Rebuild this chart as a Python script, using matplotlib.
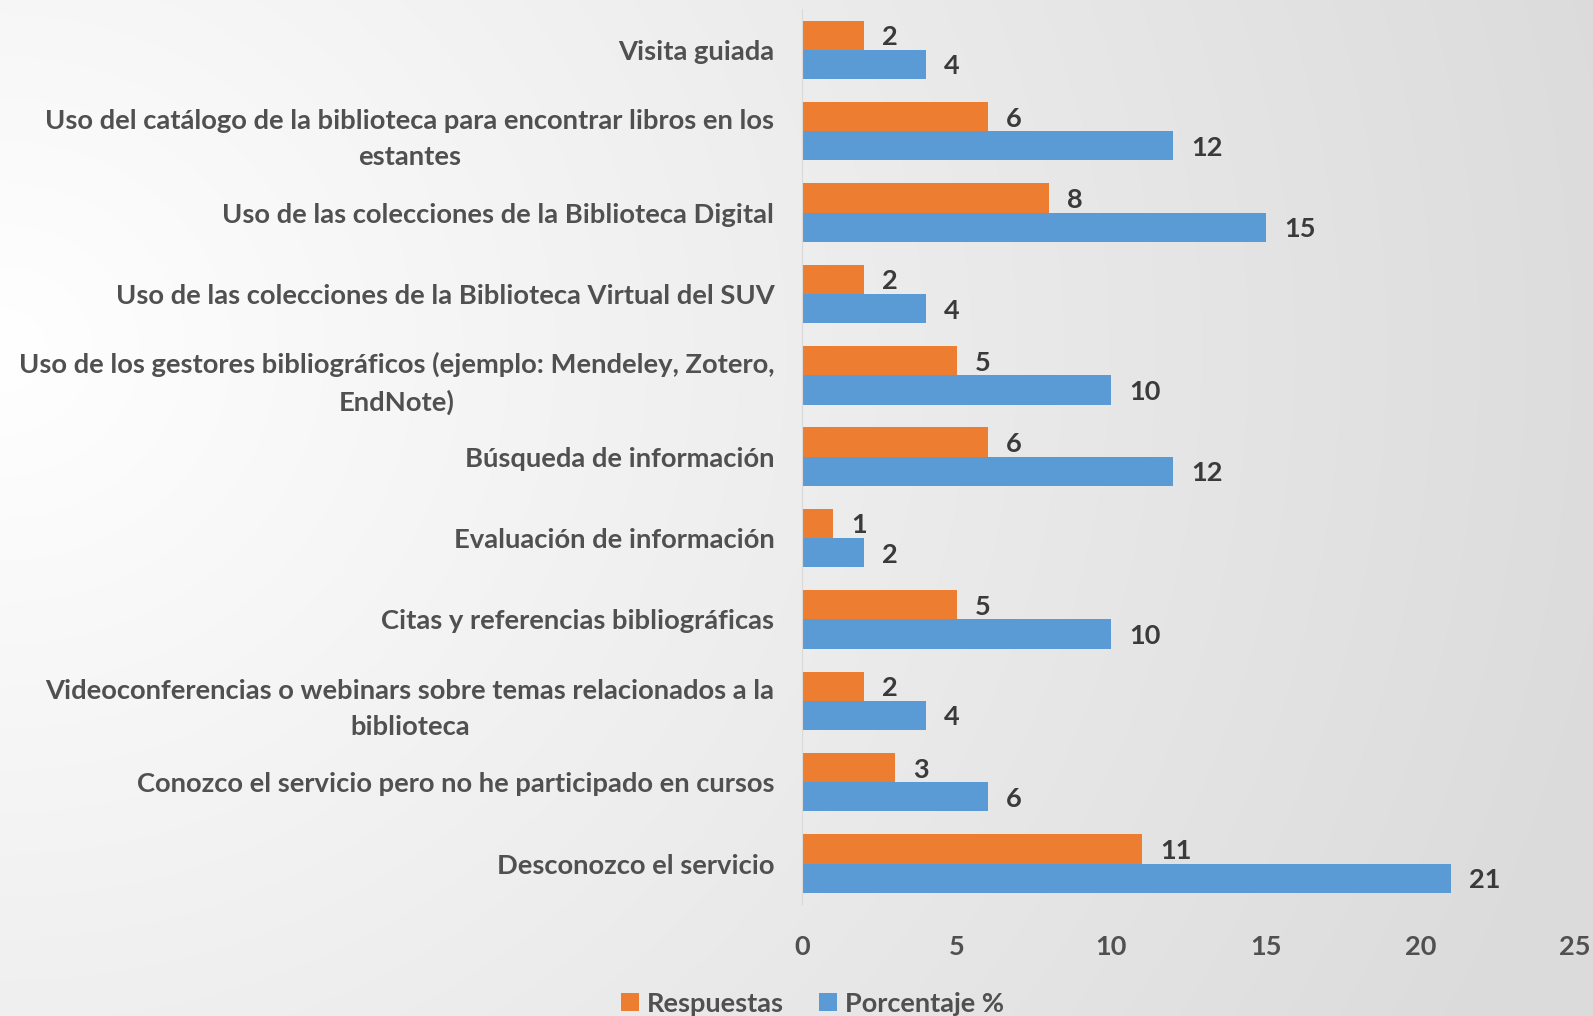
import matplotlib
matplotlib.use('Agg')
import matplotlib.pyplot as plt
import numpy as np

categories = [
	'Visita guiada',
	'Uso del catálogo de la biblioteca para encontrar libros en los\nestantes',
	'Uso de las colecciones de la Biblioteca Digital',
	'Uso de las colecciones de la Biblioteca Virtual del SUV',
	'Uso de los gestores bibliográficos (ejemplo: Mendeley, Zotero,\nEndNote)',
	'Búsqueda de información',
	'Evaluación de información',
	'Citas y referencias bibliográficas',
	'Videoconferencias o webinars sobre temas relacionados a la\nbiblioteca',
	'Conozco el servicio pero no he participado en cursos',
	'Desconozco el servicio',
]
respuestas = [2, 6, 8, 2, 5, 6, 1, 5, 2, 3, 11]
porcentaje = [4, 12, 15, 4, 10, 12, 2, 10, 4, 6, 21]
x_ticks = [0, 5, 10, 15, 20, 25]

ORANGE = '#ED7D31'
BLUE = '#5B9BD5'
TEXT = '#505050'
LABEL = '#3a3a3a'

plt.rcParams['font.family'] = ['Lato', 'DejaVu Sans']
plt.rcParams['font.weight'] = 'bold'

fig = plt.figure( figsize = (15.93, 10.16), dpi = 100 )

# radial grey background
bg = fig.add_axes( [0, 0, 1, 1], zorder = -10 )
yy, xx = np.mgrid[0:1016, 0:1593]
dist = np.hypot( xx - 0, ( yy - 350 ) * 1.1 ) / 1650
shade = 1.0 - 0.14 * np.clip( dist, 0, 1 )
bg.imshow( np.dstack( [shade] * 3 ), aspect = 'auto', extent = (0, 1, 0, 1) )
bg.axis( 'off' )

ax = fig.add_axes( [0.5035, 0.110, 0.4852, 0.881] )
ax.patch.set_alpha( 0 )

y = np.arange( len( categories ) )
h = 0.36
b1 = ax.barh( y - h / 2, respuestas, height = h, color = ORANGE, label = 'Respuestas' )
b2 = ax.barh( y + h / 2, porcentaje, height = h, color = BLUE, label = 'Porcentaje %' )

for bars in (b1, b2):
	for t in ax.bar_label( bars, padding = 13, fontsize = 19.5, color = LABEL, fontweight = 'bold' ):
		t.set_va( 'center_baseline' )

ax.set_ylim( len( categories ) - 0.5, -0.5 )
ax.set_xlim( 0, 25 )
ax.set_xticks( x_ticks )
ax.set_yticks( y )
ax.set_yticklabels( categories, fontsize = 19.7, color = TEXT, multialignment = 'center', linespacing = 1.6 )
ax.tick_params( axis = 'x', labelsize = 19.5, labelcolor = TEXT, length = 0, pad = 22 )
ax.tick_params( axis = 'y', length = 0, pad = 20 )

for side in ('top', 'right', 'bottom'):
	ax.spines[side].set_visible( False )
ax.spines['left'].set_color( '#d9d9d9' )

fig.legend(
	handles = [b1, b2], loc = 'center', bbox_to_anchor = (0.51, 0.012), ncol = 2, frameon = False,
	fontsize = 19.5, labelcolor = TEXT, handlelength = 0.65, handleheight = 0.65, handletextpad = 0.3,
	columnspacing = 1.3
)

plt.savefig( 'out.png', dpi = 100 )
